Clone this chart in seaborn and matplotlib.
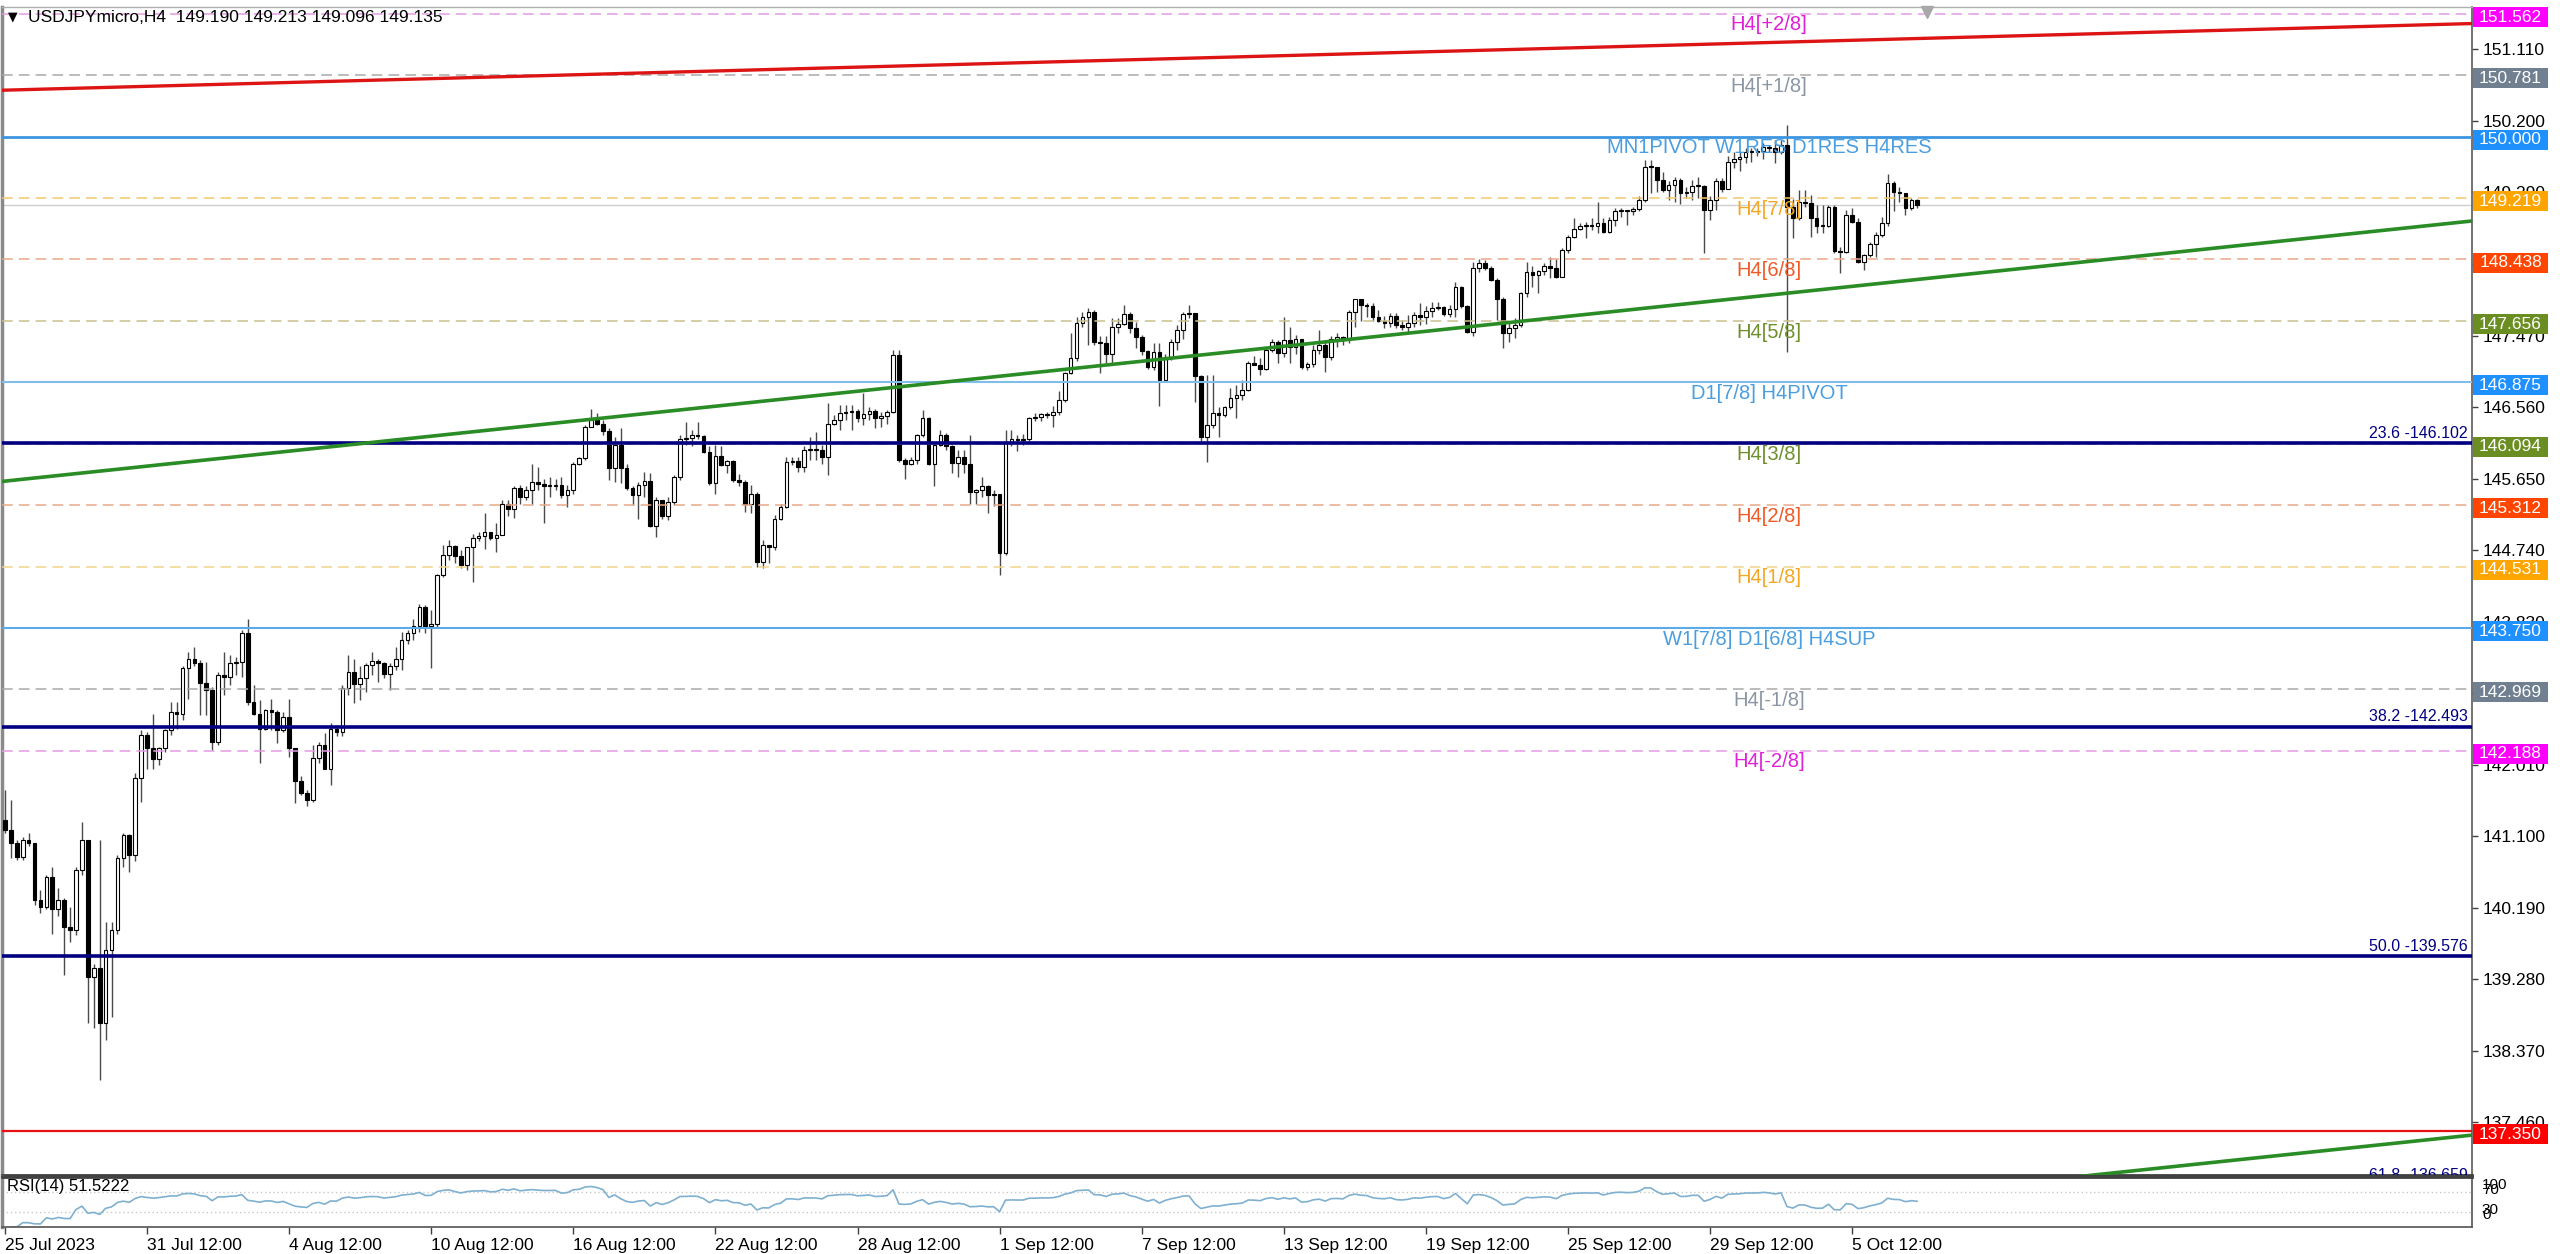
import numpy as np
import pandas as pd
import matplotlib
matplotlib.use("Agg")
import matplotlib.pyplot as plt
from matplotlib.patches import Rectangle
import seaborn as sns

sns.set_theme(style="white")
plt.rcParams["font.family"] = ["Liberation Sans", "DejaVu Sans"]

# ---------------- data (USDJPYmicro H4) ----------------
first_open = 141.31
closes = [
    141.18, 141.01, 140.84, 141.05, 141.01, 140.29, 140.20, 140.58, 140.18, 140.29,
    139.95, 139.91, 140.67, 141.05, 139.31, 139.42, 138.72, 139.65, 139.91, 140.82,
    141.12, 140.86, 141.84, 142.39, 142.22, 142.08, 142.22, 142.45, 142.68, 142.66,
    143.24, 143.36, 143.30, 143.05, 142.96, 142.30, 143.15, 143.13, 143.30, 143.32,
    143.68, 142.81, 142.66, 142.47, 142.70, 142.68, 142.45, 142.62, 142.22, 141.80,
    141.65, 141.56, 142.09, 142.26, 141.96, 142.47, 142.43, 142.98, 143.19, 143.04,
    143.11, 143.28, 143.33, 143.31, 143.17, 143.26, 143.36, 143.60, 143.68, 143.77,
    144.02, 143.77, 143.80, 144.42, 144.68, 144.79, 144.66, 144.55, 144.78, 144.90,
    144.92, 144.97, 144.89, 144.93, 145.33, 145.26, 145.53, 145.41, 145.50, 145.61,
    145.58, 145.56, 145.56, 145.57, 145.44, 145.50, 145.84, 145.91, 146.31, 146.40,
    146.35, 146.25, 145.78, 146.08, 145.78, 145.53, 145.44, 145.57, 145.62, 145.05,
    145.38, 145.17, 145.35, 145.67, 146.16, 146.17, 146.21, 146.19, 145.99, 145.59,
    145.94, 145.82, 145.87, 145.63, 145.61, 145.33, 145.45, 144.59, 144.81, 144.78,
    145.14, 145.29, 145.86, 145.87, 145.80, 146.02, 146.02, 146.01, 145.93, 146.34,
    146.40, 146.49, 146.50, 146.51, 146.42, 146.47, 146.51, 146.42, 146.45, 146.50,
    147.22, 145.89, 145.84, 145.89, 146.20, 146.42, 145.84, 146.08, 146.20, 146.06,
    145.85, 145.93, 145.84, 145.48, 145.50, 145.55, 145.44, 145.45, 144.70, 146.12,
    146.16, 146.14, 146.15, 146.42, 146.43, 146.47, 146.46, 146.50, 146.65, 146.99,
    147.18, 147.63, 147.71, 147.77, 147.39, 147.38, 147.24, 147.58, 147.62, 147.75,
    147.56, 147.45, 147.27, 147.07, 147.26, 146.90, 147.20, 147.39, 147.54, 147.75,
    147.76, 146.95, 146.18, 146.33, 146.48, 146.46, 146.56, 146.67, 146.71, 146.78,
    147.12, 147.10, 147.05, 147.29, 147.39, 147.25, 147.41, 147.33, 147.42, 147.07,
    147.11, 147.29, 147.35, 147.20, 147.43, 147.45, 147.42, 147.77, 147.93, 147.86,
    147.84, 147.70, 147.65, 147.63, 147.72, 147.60, 147.58, 147.63, 147.73, 147.71,
    147.78, 147.82, 147.83, 147.74, 147.81, 148.09, 147.84, 147.52, 148.33, 148.39,
    148.33, 148.18, 147.94, 147.50, 147.56, 147.60, 148.01, 148.28, 148.24, 148.29,
    148.35, 148.33, 148.22, 148.56, 148.73, 148.83, 148.86, 148.88, 148.87, 148.90,
    148.79, 148.94, 149.05, 149.07, 149.05, 149.08, 149.19, 149.62, 149.61, 149.45,
    149.32, 149.39, 149.45, 149.28, 149.29, 149.37, 149.37, 149.07, 149.19, 149.43,
    149.33, 149.68, 149.72, 149.74, 149.81, 149.81, 149.82, 149.87, 149.85, 149.81,
    149.89, 149.11, 148.96, 149.17, 149.16, 148.97, 148.86, 148.87, 149.11, 148.54,
    148.53, 149.00, 148.92, 148.41, 148.49, 148.64, 148.75, 148.90, 149.41, 149.30,
    149.28, 149.09, 149.19, 149.135,
]
highs = [
    141.69, 141.56, 141.05, 141.09, 141.14, 141.02, 140.41, 140.61, 140.71, 140.44,
    140.31, 140.20, 140.71, 141.28, 141.05, 139.48, 141.05, 140.01, 140.01, 140.86,
    141.14, 141.13, 141.90, 142.45, 142.43, 142.66, 142.24, 142.47, 142.81, 142.81,
    143.26, 143.45, 143.51, 143.34, 143.32, 143.00, 143.19, 143.45, 143.40, 143.38,
    143.72, 143.87, 143.02, 142.83, 142.72, 142.85, 142.70, 142.68, 142.85, 142.22,
    141.86, 141.69, 142.26, 142.30, 142.41, 142.54, 142.51, 143.02, 143.40, 143.36,
    143.26, 143.30, 143.45, 143.36, 143.32, 143.30, 143.51, 143.70, 143.72, 143.87,
    144.06, 144.04, 143.98, 144.44, 144.80, 144.87, 144.80, 144.74, 144.78, 144.95,
    144.97, 145.21, 144.97, 145.08, 145.38, 145.38, 145.55, 145.57, 145.55, 145.84,
    145.80, 145.65, 145.67, 145.65, 145.67, 145.57, 145.86, 145.93, 146.33, 146.54,
    146.48, 146.39, 146.29, 146.18, 146.29, 145.84, 145.55, 145.61, 145.74, 145.72,
    145.42, 145.25, 145.42, 145.69, 146.20, 146.37, 146.27, 146.37, 146.20, 146.06,
    146.08, 146.06, 145.89, 145.89, 145.71, 145.63, 145.57, 145.48, 144.87, 144.80,
    145.19, 145.33, 145.93, 145.93, 145.93, 146.06, 146.18, 146.24, 146.08, 146.61,
    146.46, 146.59, 146.59, 146.59, 146.54, 146.74, 146.56, 146.54, 146.50, 146.52,
    147.29, 147.29, 145.91, 145.93, 146.22, 146.52, 146.44, 146.10, 146.27, 146.23,
    146.08, 146.02, 146.02, 146.20, 145.52, 145.67, 145.57, 145.50, 145.45, 146.27,
    146.27, 146.20, 146.22, 146.44, 146.48, 146.49, 146.50, 146.58, 146.76, 147.01,
    147.50, 147.71, 147.77, 147.82, 147.79, 147.47, 147.46, 147.69, 147.69, 147.86,
    147.77, 147.64, 147.48, 147.29, 147.37, 147.37, 147.24, 147.43, 147.60, 147.77,
    147.86, 147.24, 146.97, 146.97, 146.97, 146.56, 146.58, 146.80, 146.84, 146.90,
    147.14, 147.21, 147.19, 147.33, 147.43, 147.41, 147.71, 147.58, 147.48, 147.43,
    147.13, 147.35, 147.54, 147.41, 147.46, 147.50, 147.46, 147.79, 147.94, 147.94,
    147.88, 147.88, 147.79, 147.72, 147.76, 147.76, 147.67, 147.73, 147.77, 147.88,
    147.85, 147.90, 147.90, 147.85, 147.86, 148.15, 148.10, 147.86, 148.41, 148.44,
    148.43, 148.35, 148.20, 147.96, 147.64, 147.69, 148.03, 148.41, 148.35, 148.30,
    148.39, 148.47, 148.45, 148.58, 148.75, 148.96, 148.90, 148.92, 148.96, 149.17,
    148.96, 148.98, 149.09, 149.09, 149.07, 149.11, 149.24, 149.70, 149.70, 149.62,
    149.55, 149.43, 149.49, 149.47, 149.36, 149.45, 149.49, 149.39, 149.25, 149.47,
    149.47, 149.75, 149.81, 149.81, 149.85, 149.85, 149.85, 149.92, 149.89, 149.96,
    149.96, 150.15, 149.21, 149.32, 149.32, 149.26, 149.13, 149.13, 149.13, 149.13,
    148.60, 149.07, 149.09, 148.96, 148.51, 148.66, 148.79, 148.98, 149.53, 149.43,
    149.36, 149.19, 149.22, 149.213,
]
lows = [
    141.14, 140.82, 140.80, 140.80, 140.97, 140.22, 140.12, 140.18, 139.86, 140.08,
    139.33, 139.76, 139.84, 140.61, 138.72, 138.66, 138.00, 138.51, 138.80, 139.86,
    140.71, 140.65, 140.78, 141.54, 141.96, 141.96, 142.00, 142.17, 142.39, 142.47,
    142.58, 142.84, 143.26, 142.64, 142.64, 142.20, 142.26, 142.90, 143.02, 143.15,
    143.13, 142.77, 142.64, 142.03, 142.45, 142.45, 142.28, 142.43, 142.11, 141.52,
    141.62, 141.48, 141.54, 142.03, 141.96, 141.75, 142.37, 142.37, 142.90, 142.79,
    142.83, 142.94, 143.15, 143.06, 143.11, 142.96, 143.21, 143.21, 143.55, 143.60,
    143.70, 143.68, 143.24, 143.75, 144.40, 144.61, 144.57, 144.51, 144.49, 144.34,
    144.86, 144.76, 144.87, 144.72, 144.93, 145.17, 145.15, 145.33, 145.38, 145.33,
    145.50, 145.08, 145.42, 145.50, 145.40, 145.29, 145.46, 145.82, 145.89, 146.31,
    146.33, 146.20, 145.63, 145.61, 145.59, 145.50, 145.31, 145.14, 145.42, 145.04,
    144.91, 145.14, 145.12, 145.31, 145.63, 146.08, 146.06, 146.16, 145.97, 145.57,
    145.46, 145.81, 145.72, 145.61, 145.55, 145.23, 145.21, 144.53, 144.51, 144.57,
    144.74, 145.12, 145.27, 145.82, 145.74, 145.74, 145.89, 145.89, 145.84, 145.70,
    146.33, 146.27, 146.40, 146.27, 146.37, 146.33, 146.40, 146.29, 146.31, 146.35,
    146.48, 145.86, 145.65, 145.82, 145.84, 146.18, 145.82, 145.55, 146.06, 146.02,
    145.72, 145.67, 145.72, 145.33, 145.33, 145.42, 145.21, 145.30, 144.42, 144.68,
    146.06, 146.00, 146.08, 146.13, 146.38, 146.38, 146.42, 146.31, 146.46, 146.63,
    146.98, 147.14, 147.58, 147.35, 147.35, 146.99, 147.12, 147.12, 147.50, 147.60,
    147.50, 147.31, 147.22, 147.05, 147.03, 146.57, 146.88, 147.16, 147.29, 147.43,
    147.69, 146.63, 146.12, 145.86, 146.30, 146.18, 146.43, 146.54, 146.42, 146.65,
    146.76, 147.09, 146.97, 147.03, 147.26, 147.12, 147.20, 147.12, 147.24, 147.05,
    147.03, 147.07, 147.24, 147.01, 147.16, 147.33, 147.35, 147.37, 147.58, 147.65,
    147.71, 147.65, 147.64, 147.56, 147.58, 147.56, 147.54, 147.52, 147.58, 147.60,
    147.62, 147.71, 147.80, 147.72, 147.70, 147.71, 147.82, 147.50, 147.46, 148.28,
    148.30, 148.16, 147.67, 147.31, 147.39, 147.44, 147.58, 147.96, 148.09, 148.01,
    148.24, 148.20, 148.20, 148.30, 148.52, 148.71, 148.81, 148.71, 148.81, 148.77,
    148.77, 148.77, 148.86, 148.98, 148.88, 149.00, 149.05, 149.17, 149.28, 149.30,
    149.30, 149.19, 149.17, 149.15, 149.22, 149.19, 149.22, 148.52, 148.94, 149.07,
    149.30, 149.36, 149.60, 149.56, 149.66, 149.68, 149.75, 149.72, 149.80, 149.66,
    149.78, 147.26, 148.71, 148.94, 149.11, 148.73, 148.77, 148.77, 148.85, 148.52,
    148.26, 148.52, 148.90, 148.39, 148.30, 148.47, 148.47, 148.73, 148.86, 149.05,
    149.17, 149.00, 149.07, 149.096,
]

# x labels (bar index -> text)
tick_bars = [0, 24, 48, 72, 96, 120, 144, 168, 192, 216, 240, 264, 288, 312]
tick_text = ["25 Jul 2023", "31 Jul 12:00", "4 Aug 12:00", "10 Aug 12:00", "16 Aug 12:00",
             "22 Aug 12:00", "28 Aug 12:00", "1 Sep 12:00", "7 Sep 12:00", "13 Sep 12:00",
             "19 Sep 12:00", "25 Sep 12:00", "29 Sep 12:00", "5 Oct 12:00"]
price_ticks = [137.46, 138.37, 139.28, 140.19, 141.10, 142.01, 142.92, 143.83,
               144.74, 145.65, 146.56, 147.47, 148.38, 149.29, 150.20, 151.11]

# Murrey / pivot levels
murrey_prices = [151.562, 150.781, 150.000, 149.219, 148.438, 147.656, 146.875,
                 146.094, 145.312, 144.531, 143.750, 142.969, 142.188]
murrey_labels = ["H4[+2/8]", "H4[+1/8]", "MN1PIVOT W1RES D1RES H4RES", "H4[7/8]", "H4[6/8]",
                 "H4[5/8]", "D1[7/8] H4PIVOT", "H4[3/8]", "H4[2/8]", "H4[1/8]",
                 "W1[7/8] D1[6/8] H4SUP", "H4[-1/8]", "H4[-2/8]"]
# Fibonacci levels
fibo_pct = ["23.6", "38.2", "50.0", "61.8"]
fibo_prices = [146.102, 142.493, 139.576, 136.659]
red_level = 137.350
bid = 149.135
# trend lines: (bar, price) end points
red_trend_x, red_trend_y = [-1, 417], [150.59, 151.44]
green_trend_x, green_trend_y = [-1, 417], [145.61, 148.93]
green2_trend_x, green2_trend_y = [-1, 417], [133.98, 137.30]

# ---------------- styles ----------------
line_cols = ["#e39be3", "#a9a9a9", "#3c95e0", "#f3c76a", "#e8a88a", "#c9c08f", "#80bde8",
             "#c9c08f", "#e8a88a", "#f3d58a", "#5aabe8", "#a9a9a9", "#e39be3"]
line_solid = [False, False, True, False, False, False, True, False, False, False, True, False, False]
text_cols = ["#e020d8", "#8a96a3", "#4a9ee0", "#f2a825", "#ef5a28", "#6e8f2e", "#4a9ee0",
             "#6e8f2e", "#ef5a28", "#f2a825", "#4a9ee0", "#8a96a3", "#e020d8"]
box_cols = ["#ff00ff", "#708090", "#1e90ff", "#ffa500", "#ff4500", "#6b8e23", "#1e90ff",
            "#6b8e23", "#ff4500", "#ffa500", "#1e90ff", "#708090", "#ff00ff"]

# ---------------- build candles ----------------
c = np.array(closes)
n = len(c)
idx = np.arange(n)
o = np.r_[first_open, c[:-1]]
h = np.maximum(np.array(highs), np.maximum(o, c))
l = np.minimum(np.array(lows), np.minimum(o, c))
up = c >= o

# RSI(14), Wilder smoothing
d = pd.Series(c).diff()
ag = d.clip(lower=0).ewm(alpha=1 / 14, adjust=False).mean()
al = (-d.clip(upper=0)).ewm(alpha=1 / 14, adjust=False).mean()
rsi = 100 - 100 / (1 + ag / al)

W, H = 2560, 1254
fig = plt.figure(figsize=(W / 100, H / 100), dpi=100)
fig.patch.set_facecolor("white")


def px_box(x0, y0, x1, y1):
    return [x0 / W, 1 - y1 / H, (x1 - x0) / W, (y1 - y0) / H]


ax = fig.add_axes(px_box(2, 7, 2472, 1175))
rax = fig.add_axes(px_box(2, 1177, 2472, 1227))
XL = (-0.5, 416.7)
ax.set_xlim(*XL)
ax.set_ylim(136.79, 151.65)
rax.set_xlim(*XL)
rax.set_ylim(0, 100)

# candles
ax.vlines(idx, l, h, color="#4a4a4a", lw=1.0, zorder=3)
body = np.maximum(np.abs(c - o), 0.012)
ax.bar(idx[up], body[up], bottom=o[up], width=0.62, facecolor="white",
       edgecolor="black", linewidth=0.8, zorder=4)
ax.bar(idx[~up], body[~up], bottom=c[~up], width=0.62, facecolor="black",
       edgecolor="black", linewidth=0.8, zorder=4)

# bid line
ax.axhline(bid, color="#cfcfcf", lw=1.0, zorder=2)

# murrey lines + labels
for p, name, lc, solid, tc in zip(murrey_prices, murrey_labels, line_cols, line_solid, text_cols):
    if solid:
        ax.axhline(p, color=lc, lw=2.0 if p == 150.0 else 1.5, zorder=5)
    else:
        ax.axhline(p, color=lc, lw=1.1, linestyle=(0, (7, 4)), zorder=5)
    ax.text(298.0, p - 0.02, name, ha="center", va="top", color=tc, fontsize=14.5, zorder=6)

# fibonacci lines
for pct, p in zip(fibo_pct, fibo_prices):
    ax.axhline(p, color="#000080", lw=2.6, zorder=5)
    ax.text(416.0, p + 0.03, f"{pct} -{p:.3f}", ha="right", va="bottom",
            color="#000080", fontsize=11.5, zorder=6, clip_on=True)

ax.axhline(red_level, color="#e81010", lw=1.6, zorder=5)

# trend lines
sns.lineplot(x=red_trend_x, y=red_trend_y, ax=ax, color="#dc1414", linewidth=2.4, zorder=5, legend=False)
sns.lineplot(x=green_trend_x, y=green_trend_y, ax=ax, color="#2a8c25", linewidth=2.6, zorder=5, legend=False)
sns.lineplot(x=green2_trend_x, y=green2_trend_y, ax=ax, color="#2a8c25", linewidth=2.6, zorder=5, legend=False)
ax.set_xlim(*XL)
ax.set_ylim(136.79, 151.65)

# right price axis
ax.yaxis.tick_right()
ax.set_yticks(price_ticks)
ax.set_yticklabels([f"{v:.3f}" for v in price_ticks])
ax.tick_params(axis="y", right=True, left=False, length=4, width=1, color="#404040",
               pad=4, labelsize=12.5, labelcolor="black")
ax.set_xticks([])
ax.set_xlabel("")
ax.set_ylabel("")

# price boxes
ytr = ax.get_yaxis_transform()
for p, bc in zip(murrey_prices + [red_level], box_cols + ["#ff0000"]):
    ax.add_patch(Rectangle((1.0004, p - 0.167), 0.0304, 0.254, transform=ytr,
                           facecolor=bc, edgecolor="none", clip_on=False, zorder=10))
    ax.text(1.0156, p - 0.04, f"{p:.3f}", transform=ytr, ha="center", va="center",
            color="white", fontsize=12.5, clip_on=False, zorder=11)

# shift marker
ax.plot([324.7], [0.996], marker="v", color="#a8a8a8", markersize=9,
        transform=ax.get_xaxis_transform(), clip_on=False, zorder=12)

for s in ["left", "top", "right", "bottom"]:
    ax.spines[s].set_visible(True)
ax.spines["left"].set_color("#8a8a8a")
ax.spines["left"].set_linewidth(2.5)
ax.spines["top"].set_color("#b0b0b0")
ax.spines["top"].set_linewidth(1)
ax.spines["right"].set_color("#5a5a5a")
ax.spines["right"].set_linewidth(1.2)
ax.spines["bottom"].set_color("#404040")
ax.spines["bottom"].set_linewidth(2)

# ---------------- RSI panel ----------------
rax.axhline(70, color="#c8c8c8", lw=1, linestyle=(0, (1, 2)))
rax.axhline(30, color="#c8c8c8", lw=1, linestyle=(0, (1, 2)))
sns.lineplot(x=idx, y=rsi.values, ax=rax, color="#7fb0d0", linewidth=1.2, legend=False)
rax.set_xlim(*XL)
rax.set_ylim(0, 100)
rax.set_yticks([])
rax.set_ylabel("")
rax.text(0.002, 0.95, "RSI(14) 51.5222", transform=rax.transAxes, ha="left", va="top",
         fontsize=12, color="black")
rtr = rax.get_yaxis_transform()
for yv, txt in [(84, "100"), (74, "70"), (34, "30"), (24, "0")]:
    rax.text(1.004, yv, txt, transform=rtr, ha="left", va="center", fontsize=11,
             color="black", clip_on=False)
rax.set_xticks(tick_bars)
rax.set_xticklabels(tick_text, ha="left")
rax.tick_params(axis="x", bottom=True, length=5, width=1, color="#404040", pad=3,
                labelsize=12.5, labelcolor="black")
for s in ["left", "top", "right", "bottom"]:
    rax.spines[s].set_visible(True)
rax.spines["top"].set_color("#404040")
rax.spines["top"].set_linewidth(2)
rax.spines["left"].set_color("#8a8a8a")
rax.spines["left"].set_linewidth(2.5)
rax.spines["right"].set_color("#5a5a5a")
rax.spines["bottom"].set_color("#5a5a5a")

# header
fig.text(8 / W, 1 - 17 / H, "\u25bc", fontsize=9, va="center", ha="left",
         family=["DejaVu Sans"], color="black")
fig.text(28 / W, 1 - 17 / H, "USDJPYmicro,H4  149.190 149.213 149.096 149.135",
         fontsize=12.5, va="center", ha="left", color="black")

fig.savefig("out.png", dpi=100, facecolor="white")
